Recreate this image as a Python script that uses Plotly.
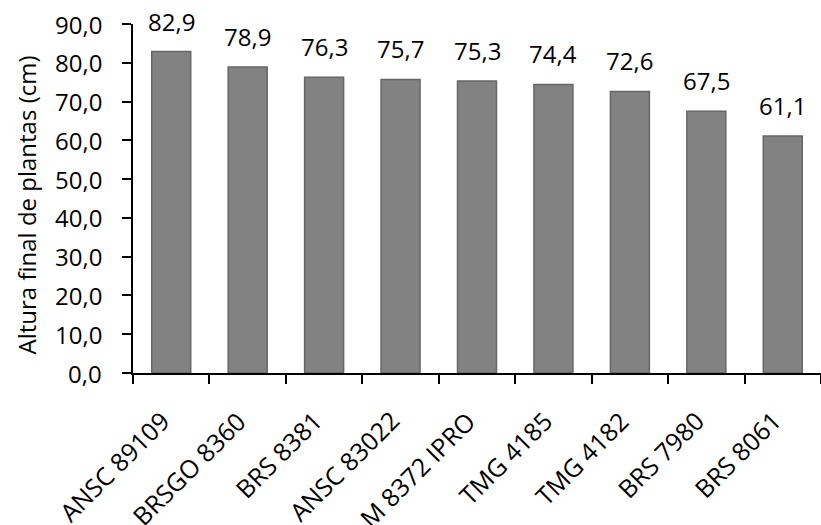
import plotly.graph_objects as go

categorias = ["ANSC 89109", "BRSGO 8360", "BRS 8381", "ANSC 83022", "M 8372 IPRO",
              "TMG 4185", "TMG 4182", "BRS 7980", "BRS 8061"]
altura = [82.9, 78.9, 76.3, 75.7, 75.3, 74.4, 72.6, 67.5, 61.1]
y_ticks = [0, 10, 20, 30, 40, 50, 60, 70, 80, 90]
y_title = "Altura final de plantas (cm)"


def fmt(v):
    return f"{v:.1f}".replace(".", ",")


fig = go.Figure()
fig.add_trace(go.Bar(
    x=categorias, y=altura,
    marker=dict(color="#828282", line=dict(color="#666666", width=1.5)),
    hoverinfo="x+y",
))

# data labels
for c, v in zip(categorias, altura):
    fig.add_annotation(
        xref="x", yref="y", x=c, y=v, text=fmt(v),
        showarrow=False, yanchor="bottom", yshift=12,
        font=dict(family="Open Sans", size=24, color="#000000"),
    )

# y tick labels (placed on the y scale, set off from the axis)
for v in y_ticks:
    fig.add_annotation(
        xref="paper", yref="y", x=0, y=v, text=fmt(v),
        showarrow=False, xanchor="right", yanchor="middle", xshift=-29,
        font=dict(family="Open Sans", size=24, color="#000000"),
    )

# x tick labels (rotated)
for c in categorias:
    fig.add_annotation(
        xref="x", yref="paper", x=c, y=0, text=c, textangle=-45,
        showarrow=False, xanchor="right", yanchor="top", xshift=8, yshift=-28,
        font=dict(family="Open Sans", size=25, color="#000000"),
    )

fig.add_annotation(
    xref="paper", yref="paper", x=-0.155, y=0.481, text=y_title, textangle=-90,
    showarrow=False, xanchor="center", yanchor="middle",
    font=dict(family="Open Sans", size=24, color="#000000"),
)

fig.update_layout(
    width=821, height=525,
    margin=dict(l=133, r=0, t=24, b=152),
    paper_bgcolor="white", plot_bgcolor="white",
    showlegend=False,
    bargap=0.49,
    font=dict(family="Open Sans", color="#000000"),
    xaxis=dict(
        type="category", categoryorder="array", categoryarray=categorias,
        range=[-0.5, len(categorias) - 0.5],
        showline=True, linecolor="#000000", linewidth=1.5,
        ticks="outside", tickson="boundaries", ticklen=9, tickcolor="#000000", tickwidth=1.5,
        showticklabels=True, tickfont=dict(size=1, color="rgba(0,0,0,0)"),
        showgrid=False, automargin=False,
    ),
    yaxis=dict(
        range=[0, 90], tickvals=y_ticks,
        showline=True, linecolor="#000000", linewidth=1.5,
        ticks="outside", ticklen=9, tickcolor="#000000", tickwidth=1.5,
        showticklabels=False,
        showgrid=False, zeroline=False, automargin=False,
    ),
)

fig.write_html("out.html", config={"displayModeBar": False},
               post_script="document.body.style.margin='0';document.body.style.overflow='hidden';")
